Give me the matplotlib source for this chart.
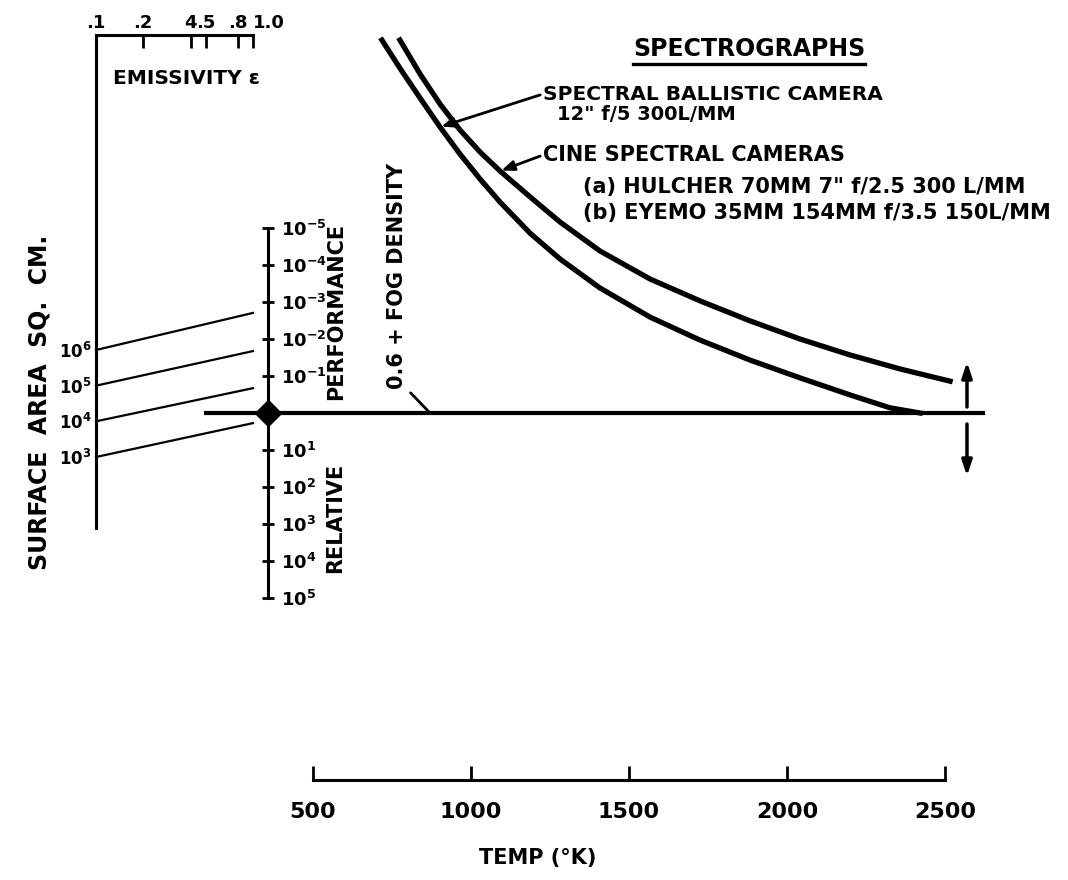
import matplotlib
matplotlib.use('Agg')
import matplotlib.pyplot as plt
import matplotlib.transforms as mtransforms
from matplotlib.lines import Line2D
from matplotlib.ticker import NullLocator

plt.rcParams['font.family'] = ['DejaVu Sans']
plt.rcParams['font.weight'] = 'bold'
plt.rcParams['mathtext.fontset'] = 'dejavusans'

# temperature scale (deg K)
temp_ticks = [500, 1000, 1500, 2000, 2500]

# relative performance scale, log10 exponents (0 = the fog density line)
perf_exp = [-5, -4, -3, -2, -1, 1, 2, 3, 4, 5]

# spectral ballistic camera curve (temp, log10 relative performance)
ballistic_T = [718, 775, 839, 902, 965, 1029, 1092, 1187, 1282, 1408, 1567,
               1725, 1883, 2041, 2199, 2326, 2421]
ballistic_e = [-10.08, -9.32, -8.51, -7.73, -7.0, -6.32, -5.70, -4.86, -4.16, -3.38, -2.59,
               -1.97, -1.43, -0.95, -0.49, -0.14, 0.0]

# cine spectral cameras curve
cine_T = [775, 839, 902, 965, 1029, 1092, 1187, 1282, 1408, 1567,
          1725, 1883, 2041, 2199, 2358, 2516]
cine_e = [-10.08, -9.16, -8.35, -7.65, -7.05, -6.54, -5.84, -5.16, -4.38, -3.62,
          -3.03, -2.49, -2.0, -1.57, -1.19, -0.86]

# 0.6 + fog density line
fog_T = [160, 2620]
fog_e = [0, 0]

# surface area scale (log10 sq cm) and where the guide lines end
area_exp = [3, 4, 5, 6]
area_end_exp = [3.95, 4.93, 5.97, 7.04]

# emissivity scale
emis_ticks = [0.1, 0.2, 0.4, 0.5, 0.8, 1.0]
emis_labels = ['.1', '.2', '4', '.5', '.8', '1.0']

W, H = 1068, 880
T_PX = 0.316      # pixels per kelvin
T0_X = 313        # pixel x of 500 K
E0_Y = 413        # pixel y of the fog line
DEC_PX = 37       # pixels per decade of performance


def px_T(x):
    return 500 + (x - T0_X) / T_PX


def px_e(y):
    return (y - E0_Y) / DEC_PX


fig = plt.figure(figsize=(W / 100, H / 100), dpi=100)


def put(x, y, s, **kw):
    kw.setdefault('ha', 'left')
    kw.setdefault('va', 'center')
    kw.setdefault('fontsize', 15)
    return fig.text(x / W, 1 - y / H, s, **kw)


# main axes: temperature vs relative performance
ax = fig.add_axes([0, 0, 1, 1])
ax.set_facecolor('none')
ax.set_xlim(px_T(0), px_T(W))
ax.set_ylim(px_e(H), px_e(0))
ax.spines['top'].set_visible(False)
ax.spines['left'].set_visible(False)
for s in ('bottom', 'right'):
    ax.spines[s].set_linewidth(2.2)

ax.spines['bottom'].set_position(('axes', 1 - 780 / H))
ax.spines['bottom'].set_bounds(temp_ticks[0], temp_ticks[-1])
ax.set_xticks(temp_ticks)
ax.tick_params(axis='x', direction='in', length=10, width=2, pad=16, labelsize=16)

ax.yaxis.tick_right()
ax.spines['right'].set_position(('axes', 268 / W))
ax.spines['right'].set_bounds(perf_exp[0], perf_exp[-1])
ax.set_yticks(perf_exp)
ax.set_yticklabels([r'$\mathbf{10^{%d}}$' % e for e in perf_exp])
ax.tick_params(axis='y', direction='inout', length=9, width=2, pad=5, labelsize=13)

ax.plot(fog_T, fog_e, color='k', lw=3)
ax.plot(ballistic_T, ballistic_e, color='k', lw=3.8, solid_joinstyle='round')
ax.plot(cine_T, cine_e, color='k', lw=3.8, solid_joinstyle='round')

trans = mtransforms.blended_transform_factory(ax.transAxes, ax.transData)
ax.plot([268 / W], [0], marker='D', ms=13, color='k', transform=trans)

# up / down arrows at the right end of the fog line
head = '-|>,head_length=0.9,head_width=0.3'
ax.annotate('', xy=(px_T(967), px_e(362)), xytext=(px_T(967), px_e(407)),
            arrowprops=dict(arrowstyle=head, lw=2.5, color='k', shrinkA=0, shrinkB=0))
ax.annotate('', xy=(px_T(967), px_e(476)), xytext=(px_T(967), px_e(424)),
            arrowprops=dict(arrowstyle=head, lw=2.5, color='k', shrinkA=0, shrinkB=0))

# labels with leader lines
lead = dict(arrowstyle='-|>,head_length=0.5,head_width=0.2', lw=2, color='k',
            shrinkA=0, shrinkB=1, relpos=(0, 0.5))
ax.annotate('SPECTRAL BALLISTIC CAMERA', xy=(ballistic_T[3], ballistic_e[3]),
            xytext=(543 / W, 1 - 94 / H), textcoords='figure fraction',
            ha='left', va='center', fontsize=14.5, arrowprops=lead)
put(557, 114, '12" f/5 300L/MM', fontsize=14)
ax.annotate('CINE SPECTRAL CAMERAS', xy=(cine_T[5], cine_e[5]),
            xytext=(543 / W, 1 - 155 / H), textcoords='figure fraction',
            ha='left', va='center', fontsize=15, arrowprops=lead)
put(583, 187, '(a) HULCHER 70MM 7" f/2.5 300 L/MM')
put(583, 213, '(b) EYEMO 35MM 154MM f/3.5 150L/MM')

title = put(749, 49, 'SPECTROGRAPHS', ha='center', fontsize=17)

ax.annotate('0.6 + FOG DENSITY', xy=(px_T(430), 0),
            xytext=(397 / W, 1 - 276 / H), textcoords='figure fraction',
            rotation=90, ha='center', va='center', fontsize=15,
            arrowprops=dict(arrowstyle='-', lw=2, color='k', shrinkA=1, shrinkB=0,
                            relpos=(1, 0)))

put(336, 311, 'PERFORMANCE', rotation=90, ha='center')
put(335, 518, 'RELATIVE', rotation=90, ha='center')
put(538, 858, 'TEMP (°K)', ha='center', fontsize=15)

# left block: surface area (log) and emissivity (log)
axl = fig.add_axes([0, 0, 1, 1])
axl.set_facecolor('none')
axl.set_xscale('log')
axl.set_yscale('log')
axl.set_xlim(10 ** (-1 - 96 / 157), 10 ** (-1 + (W - 96) / 157))
axl.set_ylim(10 ** (3 - (H - 457) / 35.67), 10 ** (6 + 350 / 35.67))
axl.spines['right'].set_visible(False)
axl.spines['bottom'].set_visible(False)
for s in ('top', 'left'):
    axl.spines[s].set_linewidth(2.2)

axl.spines['top'].set_position(('axes', 1 - 35 / H))
axl.spines['top'].set_bounds(emis_ticks[0], emis_ticks[-1])
axl.xaxis.tick_top()
axl.set_xticks(emis_ticks)
axl.set_xticklabels(emis_labels)
axl.xaxis.set_minor_locator(NullLocator())
axl.tick_params(axis='x', direction='in', length=9, width=2, pad=2, labelsize=13)
axl.get_xticklabels()[-1].set_horizontalalignment('left')

axl.spines['left'].set_position(('data', emis_ticks[0]))
axl.spines['left'].set_bounds(10 ** 1.0, 10 ** 14.83)
axl.set_yticks([10 ** k for k in area_exp])
axl.set_yticklabels([r'$\mathbf{10^{%d}}$' % k for k in area_exp])
axl.yaxis.set_minor_locator(NullLocator())
axl.tick_params(axis='y', length=0, pad=3, labelsize=12)

for k, ke in zip(area_exp, area_end_exp):
    axl.plot([emis_ticks[0], emis_ticks[-1]], [10 ** k, 10 ** ke], color='k', lw=1.6)

put(113, 79, 'EMISSIVITY ε', fontsize=14.5)
put(40, 402, 'SURFACE  AREA  SQ.  CM.', rotation=90, ha='center', fontsize=17)

# underline the heading
fig.canvas.draw()
bb = title.get_window_extent()
fig.add_artist(Line2D([bb.x0, bb.x1], [bb.y0 - 3, bb.y0 - 3], color='k', lw=2.4,
                      transform=mtransforms.IdentityTransform()))

fig.savefig('out.png', dpi=100, facecolor='white')
